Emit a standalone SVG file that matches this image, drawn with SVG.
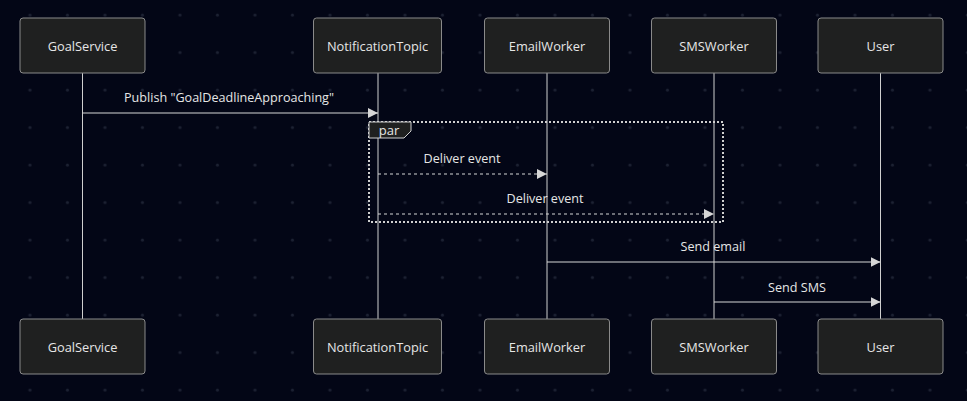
<svg xmlns="http://www.w3.org/2000/svg" width="967" height="401" viewBox="0 0 967 401">
<style>
.bg{fill:#030616}
.actor rect{fill:#1f2020;stroke:#8a8a8a;stroke-width:1}
.actor text{fill:#e6e6e6;font-family:"Open Sans","Liberation Sans",sans-serif;font-size:12.8px;text-anchor:middle;dominant-baseline:central}
.life{stroke:#cfcfcf;stroke-width:1}
.msg{stroke:#d6d6d6;stroke-width:1;fill:none}
.dash{stroke-dasharray:3 3}
.lbl{fill:#e6e6e6;font-family:"Open Sans","Liberation Sans",sans-serif;font-size:12.6px;text-anchor:middle}
.par{fill:none;stroke:#cfcfcf;stroke-width:2;stroke-dasharray:2 2}
</style>
<defs>
<pattern id="dots" x="0" y="0" width="37.5" height="37.5" patternUnits="userSpaceOnUse">
<circle cx="30" cy="15" r="1.5" fill="#1d2233"/>
</pattern>
<marker id="arr" markerWidth="10" markerHeight="10" refX="10" refY="5" orient="auto" markerUnits="userSpaceOnUse">
<path d="M0,0 L10,5 L0,10 z" fill="#d6d6d6"/>
</marker>
</defs>
<rect class="bg" width="967" height="401"/>
<rect fill="url(#dots)" width="967" height="401"/>
<g id="lifelines">
<line class="life" x1="82.5" y1="73" x2="82.5" y2="319"/>
<line class="life" x1="378" y1="73" x2="378" y2="319"/>
<line class="life" x1="547" y1="73" x2="547" y2="319"/>
<line class="life" x1="714" y1="73" x2="714" y2="319"/>
<line class="life" x1="880.5" y1="73" x2="880.5" y2="319"/>
</g>
<g id="par-frame">
<rect class="par" x="369" y="122" width="354" height="100"/>
<polygon points="369,122 411,122 411,131 404,138 369,138" fill="#1f2020" stroke="#cfcfcf" stroke-width="1"/>
<text x="389" y="134.5" class="lbl" style="font-size:13px">par</text>
</g>
<g id="connectors">
<line class="msg" x1="82.5" y1="113" x2="378" y2="113" marker-end="url(#arr)"/>
<text class="lbl" x="229" y="102">Publish "GoalDeadlineApproaching"</text>
<line class="msg dash" x1="378" y1="174" x2="547" y2="174" marker-end="url(#arr)"/>
<text class="lbl" x="462" y="163">Deliver event</text>
<line class="msg dash" x1="378" y1="214" x2="714" y2="214" marker-end="url(#arr)"/>
<text class="lbl" x="545" y="203">Deliver event</text>
<line class="msg" x1="547" y1="262" x2="880.5" y2="262" marker-end="url(#arr)"/>
<text class="lbl" x="713" y="251">Send email</text>
<line class="msg" x1="714" y1="302" x2="880.5" y2="302" marker-end="url(#arr)"/>
<text class="lbl" x="797" y="291.5">Send SMS</text>
</g>
<g id="GoalService" class="actor"><rect x="20" y="18" width="125" height="55" rx="3"/><text x="82.5" y="46">GoalService</text></g>
<g id="NotificationTopic" class="actor"><rect x="313.5" y="18" width="128" height="55" rx="3"/><text x="377.5" y="46">NotificationTopic</text></g>
<g id="EmailWorker" class="actor"><rect x="484.5" y="18" width="125" height="55" rx="3"/><text x="547" y="46">EmailWorker</text></g>
<g id="SMSWorker" class="actor"><rect x="651.5" y="18" width="125" height="55" rx="3"/><text x="714" y="46">SMSWorker</text></g>
<g id="User" class="actor"><rect x="818" y="18" width="125" height="55" rx="3"/><text x="880.5" y="46">User</text></g>
<g id="GoalService-bottom" class="actor"><rect x="20" y="319" width="125" height="55" rx="3"/><text x="82.5" y="347">GoalService</text></g>
<g id="NotificationTopic-bottom" class="actor"><rect x="313.5" y="319" width="128" height="55" rx="3"/><text x="377.5" y="347">NotificationTopic</text></g>
<g id="EmailWorker-bottom" class="actor"><rect x="484.5" y="319" width="125" height="55" rx="3"/><text x="547" y="347">EmailWorker</text></g>
<g id="SMSWorker-bottom" class="actor"><rect x="651.5" y="319" width="125" height="55" rx="3"/><text x="714" y="347">SMSWorker</text></g>
<g id="User-bottom" class="actor"><rect x="818" y="319" width="125" height="55" rx="3"/><text x="880.5" y="347">User</text></g>
</svg>
